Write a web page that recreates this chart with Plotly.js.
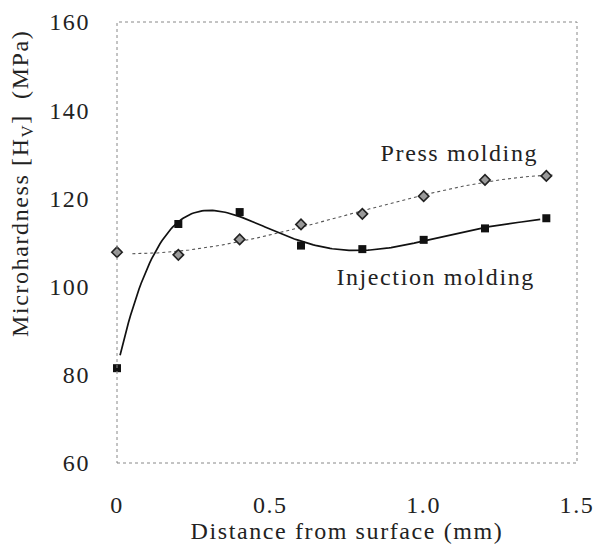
<!DOCTYPE html>
<html><head><meta charset="utf-8">
<script src="https://cdn.plot.ly/plotly-3.0.1.min.js"></script>
<style>
html,body{margin:0;padding:0;background:#fff}
#chart{width:594px;height:549px}
#chart text{letter-spacing:1.6px}
</style></head><body><div id="chart"></div>
<script>
const distance = [0, 0.2, 0.4, 0.6, 0.8, 1.0, 1.2, 1.4];
const injection = [81.5, 114.2, 116.9, 109.3, 108.5, 110.6, 113.2, 115.5];
const press = [107.8, 107.2, 110.7, 114.1, 116.5, 120.5, 124.2, 125.1];
const xTickVals = [0, 0.5, 1.0, 1.5];
const xTickText = ['0', '0.5', '1.0', '1.5'];
const yTickVals = [60, 80, 100, 120, 140, 160];

// least-squares polynomial trendline
function polyfit(xs, ys, deg) {
  const n = deg + 1;
  const M = [];
  for (let i = 0; i < n; i++) {
    M.push(new Array(n + 1).fill(0));
    for (let j = 0; j < n; j++) xs.forEach(x => { M[i][j] += Math.pow(x, i + j); });
    xs.forEach((x, k) => { M[i][n] += Math.pow(x, i) * ys[k]; });
  }
  for (let c = 0; c < n; c++) {
    let p = c;
    for (let r = c + 1; r < n; r++) if (Math.abs(M[r][c]) > Math.abs(M[p][c])) p = r;
    [M[c], M[p]] = [M[p], M[c]];
    for (let r = 0; r < n; r++) {
      if (r === c) continue;
      const f = M[r][c] / M[c][c];
      for (let k = c; k <= n; k++) M[r][k] -= f * M[c][k];
    }
  }
  return M.map((row, i) => row[n] / row[i]);
}
function trend(xs, ys, deg, x0, x1) {
  const c = polyfit(xs, ys, deg);
  const tx = [], ty = [];
  for (let i = 0; i <= 200; i++) {
    const x = x0 + (x1 - x0) * i / 200;
    tx.push(x);
    ty.push(c.reduce((s, ci, k) => s + ci * Math.pow(x, k), 0));
  }
  return {x: tx, y: ty};
}

const injFit = trend(distance, injection, 5, 0.01, 1.38);
const pressFit = trend(distance, press, 3, 0.05, 1.42);

const traces = [
  {x: pressFit.x, y: pressFit.y, mode: 'lines', line: {color: '#555', width: 1.1, dash: 'dot'}, hoverinfo: 'skip'},
  {x: injFit.x, y: injFit.y, mode: 'lines', line: {color: '#111', width: 1.7}, hoverinfo: 'skip'},
  {x: distance, y: press, mode: 'markers', cliponaxis: false, name: 'Press molding',
    marker: {symbol: 'diamond', size: 8, color: '#9a9a9a', line: {color: '#222', width: 1.6}}},
  {x: distance, y: injection, mode: 'markers', cliponaxis: false, name: 'Injection molding',
    marker: {symbol: 'square', size: 8, color: '#111', line: {width: 0}}}
];

const font = {family: 'Liberation Serif, serif', size: 24, color: '#222'};
const layout = {
  width: 594, height: 549,
  margin: {l: 117, r: 17, t: 22, b: 86},
  paper_bgcolor: '#fff', plot_bgcolor: '#fff',
  showlegend: false,
  font: font,
  xaxis: {range: [0, 1.5], tickvals: xTickVals, ticktext: xTickText, showgrid: false, zeroline: false,
    showline: false, ticks: '', ticklabelstandoff: 25, tickfont: font,
    title: {text: 'Distance from surface (mm)', font: font, standoff: 4}},
  yaxis: {range: [60, 160], tickvals: yTickVals, showgrid: false, zeroline: false,
    showline: false, ticks: '', ticklabelstandoff: 26, tickfont: font},
  shapes: [{type: 'rect', xref: 'paper', yref: 'paper', x0: 0, x1: 1, y0: 0, y1: 1,
    line: {color: '#888', width: 1, dash: 'dot'}}],
  annotations: [
    {text: 'Press molding', x: 1.117, y: 130.3, xref: 'x', yref: 'y', showarrow: false, font: font},
    {text: 'Injection molding', x: 1.037, y: 102.2, xref: 'x', yref: 'y', showarrow: false, font: font},
    {text: 'Microhardness [H<sub>V</sub>]  (MPa)', x: -0.2065, y: 0.6327, xref: 'paper', yref: 'paper',
      xanchor: 'center', yanchor: 'middle', textangle: -90, showarrow: false, font: font}
  ]
};
Plotly.newPlot('chart', traces, layout, {staticPlot: true});
</script></body></html>
